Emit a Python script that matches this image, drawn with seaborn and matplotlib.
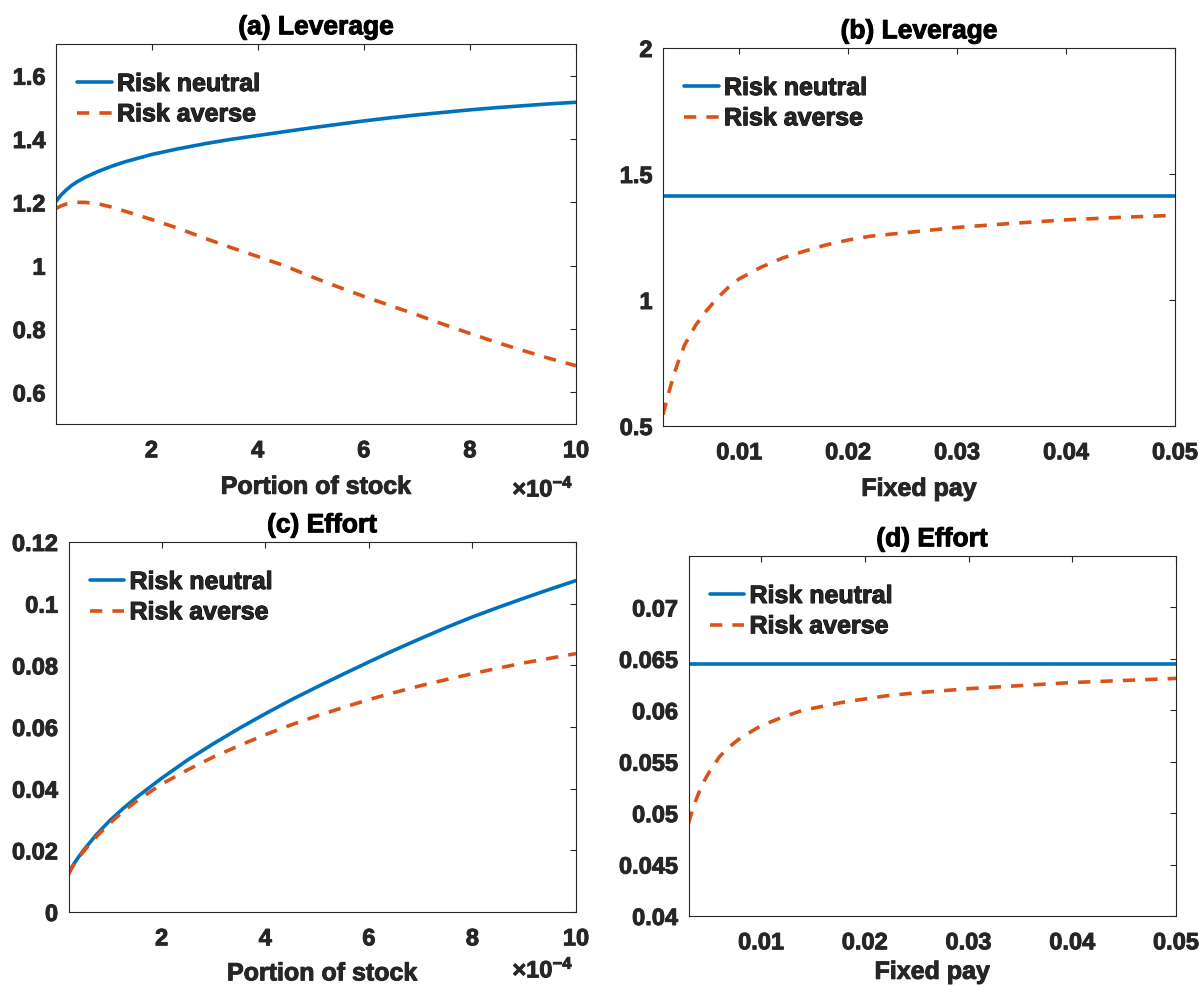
import numpy as np
import matplotlib
matplotlib.use("Agg")
import matplotlib.pyplot as plt
import matplotlib.patheffects as pe
import seaborn as sns

# ---------------- data ----------------
# Portion of stock (in units of 1e-4)
portion = [0.2, 0.25, 0.3, 0.4, 0.5, 0.6, 0.75, 1.0, 1.25, 1.5, 2.0, 2.5,
           3.0, 3.5, 4.0, 4.5, 5.0, 5.5, 6.0, 6.5, 7.0, 7.5, 8.0, 8.5,
           9.0, 9.5, 10.0]
lev_neutral_a = [1.203, 1.214, 1.224, 1.240, 1.254, 1.265, 1.279, 1.298,
                 1.314, 1.328, 1.351, 1.369, 1.385, 1.399, 1.411, 1.423,
                 1.435, 1.446, 1.457, 1.467, 1.476, 1.484, 1.492, 1.499,
                 1.505, 1.511, 1.516]
lev_averse_a = [1.181, 1.185, 1.189, 1.195, 1.198, 1.200, 1.200, 1.195,
                1.185, 1.172, 1.146, 1.118, 1.087, 1.057, 1.029, 1.000,
                0.966, 0.934, 0.903, 0.874, 0.845, 0.815, 0.786, 0.758,
                0.732, 0.707, 0.684]
eff_neutral_c = [0.0125, 0.0141, 0.0155, 0.0180, 0.0202, 0.0223, 0.0253,
                 0.0297, 0.0335, 0.0370, 0.0434, 0.0493, 0.0546, 0.0596,
                 0.0643, 0.0688, 0.0730, 0.0771, 0.0811, 0.0850, 0.0887,
                 0.0923, 0.0957, 0.0988, 0.1018, 0.1047, 0.1075]
eff_averse_c = [0.0122, 0.0138, 0.0152, 0.0177, 0.0198, 0.0218, 0.0246,
                0.0288, 0.0325, 0.0358, 0.0415, 0.0461, 0.0503, 0.0540,
                0.0575, 0.0607, 0.0636, 0.0663, 0.0689, 0.0712, 0.0734,
                0.0754, 0.0773, 0.0791, 0.0808, 0.0823, 0.0838]

# Fixed pay
fixed_pay = [0.003, 0.0035, 0.004, 0.0045, 0.005, 0.006, 0.007, 0.008,
             0.009, 0.010, 0.012, 0.014, 0.016, 0.018, 0.020, 0.022,
             0.025, 0.030, 0.035, 0.040, 0.045, 0.050]
lev_averse_b = [0.545, 0.628, 0.703, 0.768, 0.823, 0.900, 0.958, 1.008,
                1.050, 1.084, 1.130, 1.167, 1.194, 1.219, 1.238, 1.253,
                1.266, 1.288, 1.304, 1.318, 1.328, 1.336]
eff_averse_d = [0.0490, 0.0507, 0.0520, 0.0531, 0.0540, 0.0555, 0.0565,
                0.0573, 0.0579, 0.0585, 0.0593, 0.0600, 0.0604, 0.0608,
                0.0611, 0.0614, 0.0617, 0.0621, 0.0624, 0.0627, 0.0629,
                0.0631]
pay_ends = [0.003, 0.050]
lev_neutral_b = [1.414, 1.414]
eff_neutral_d = [0.0645, 0.0645]

# ticks
portion_ticks = [2, 4, 6, 8, 10]
portion_ticklabels = ["2", "4", "6", "8", "10"]
pay_ticks = [0.01, 0.02, 0.03, 0.04, 0.05]
pay_ticklabels = ["0.01", "0.02", "0.03", "0.04", "0.05"]
yticks_a = [0.6, 0.8, 1.0, 1.2, 1.4, 1.6]
ylabels_a = ["0.6", "0.8", "1", "1.2", "1.4", "1.6"]
yticks_b = [0.5, 1.0, 1.5, 2.0]
ylabels_b = ["0.5", "1", "1.5", "2"]
yticks_c = [0, 0.02, 0.04, 0.06, 0.08, 0.10, 0.12]
ylabels_c = ["0", "0.02", "0.04", "0.06", "0.08", "0.1", "0.12"]
yticks_d = [0.04, 0.045, 0.05, 0.055, 0.06, 0.065, 0.07]
ylabels_d = ["0.04", "0.045", "0.05", "0.055", "0.06", "0.065", "0.07"]

titles = ["(a) Leverage", "(b) Leverage", "(c) Effort", "(d) Effort"]
series_names = ["Risk neutral", "Risk averse"]

# ---------------- style ----------------
sns.set_style("white")
plt.rcParams["font.family"] = ["Liberation Sans", "DejaVu Sans"]
plt.rcParams["font.weight"] = "bold"
plt.rcParams["mathtext.fontset"] = "custom"
plt.rcParams["mathtext.rm"] = "Liberation Sans"
plt.rcParams["mathtext.bf"] = "Liberation Sans:bold"

BLUE = "#0072BD"
ORANGE = "#D95319"
AXC = "#262626"
LW = 2.6
DASH = (0, (3.4, 2.8))


def heavy(color):
    # slightly thicker glyph strokes
    return [pe.withStroke(linewidth=0.7, foreground=color)]


W, H = 1199, 987
fig = plt.figure(figsize=(W / 100, H / 100), dpi=100)


def axes_px(left, top, right, bottom):
    return fig.add_axes([left / W, 1 - bottom / H, (right - left) / W,
                         (bottom - top) / H])


ax_a = axes_px(56, 45, 576, 425)
ax_b = axes_px(663, 49, 1175, 427)
ax_c = axes_px(68.5, 543, 576, 913)
ax_d = axes_px(688.5, 557, 1176, 917)

x_portion = np.array(portion) * 1e-4

sns.lineplot(x=x_portion, y=lev_neutral_a, ax=ax_a, color=BLUE, lw=LW,
             label=series_names[0], estimator=None)
sns.lineplot(x=x_portion, y=lev_averse_a, ax=ax_a, color=ORANGE, lw=LW,
             linestyle=DASH, label=series_names[1], estimator=None)

sns.lineplot(x=pay_ends, y=lev_neutral_b, ax=ax_b, color=BLUE, lw=LW,
             label=series_names[0], estimator=None)
sns.lineplot(x=fixed_pay, y=lev_averse_b, ax=ax_b, color=ORANGE, lw=LW,
             linestyle=DASH, label=series_names[1], estimator=None)

sns.lineplot(x=x_portion, y=eff_neutral_c, ax=ax_c, color=BLUE, lw=LW,
             label=series_names[0], estimator=None)
sns.lineplot(x=x_portion, y=eff_averse_c, ax=ax_c, color=ORANGE, lw=LW,
             linestyle=DASH, label=series_names[1], estimator=None)

sns.lineplot(x=pay_ends, y=eff_neutral_d, ax=ax_d, color=BLUE, lw=LW,
             label=series_names[0], estimator=None)
sns.lineplot(x=fixed_pay, y=eff_averse_d, ax=ax_d, color=ORANGE, lw=LW,
             linestyle=DASH, label=series_names[1], estimator=None)

panel_setup = [
    (ax_a, (0.2e-4, 10e-4), (0.5, 1.7), np.array(portion_ticks) * 1e-4,
     portion_ticklabels, yticks_a, ylabels_a, "Portion of stock", 9, -65),
    (ax_b, (0.003, 0.05), (0.5, 2.0), pay_ticks, pay_ticklabels,
     yticks_b, ylabels_b, "Fixed pay", 9, None),
    (ax_c, (0.2e-4, 10e-4), (0.0, 0.12), np.array(portion_ticks) * 1e-4,
     portion_ticklabels, yticks_c, ylabels_c, "Portion of stock", 8, -58),
    (ax_d, (0.003, 0.05), (0.04, 0.075), pay_ticks, pay_ticklabels,
     yticks_d, ylabels_d, "Fixed pay", 4, None),
]

for (ax, xl, yl, xt, xtl, yt, ytl, xlab, lpad, exp_y), title in zip(panel_setup, titles):
    ax.set_xlim(*xl)
    ax.set_ylim(*yl)
    ax.set_xticks(xt)
    ax.set_xticklabels(xtl)
    ax.set_yticks(yt)
    ax.set_yticklabels(ytl)
    ax.tick_params(direction="in", length=4.5, width=0.8, colors=AXC,
                   labelsize=17, top=True, right=True)
    ax.tick_params(axis="x", pad=11)
    ax.tick_params(axis="y", pad=7.5)
    for lab in ax.get_xticklabels() + ax.get_yticklabels():
        lab.set_fontweight("bold")
        lab.set_path_effects(heavy(AXC))
    for sp in ax.spines.values():
        sp.set_visible(True)
        sp.set_color(AXC)
        sp.set_linewidth(0.8)
    ax.set_xlabel(xlab, fontsize=18, fontweight="bold", color=AXC,
                  labelpad=lpad, path_effects=heavy(AXC))
    ax.set_ylabel("")
    ax.set_title(title, fontsize=19, fontweight="bold", color="black", pad=7,
                 path_effects=heavy("black"))

    bb = ax.get_window_extent()
    wpx, hpx = bb.width, bb.height
    leg = ax.legend(loc="upper left", bbox_to_anchor=(21 / wpx, 1 - 28 / hpx),
                    frameon=False, prop={"size": 18, "weight": "bold"},
                    handlelength=1.38, handletextpad=0.22, labelspacing=0.25,
                    borderaxespad=0, borderpad=0)
    for t in leg.get_texts():
        t.set_path_effects(heavy("black"))

    if exp_y is not None:
        ax.text(0.995, exp_y / hpx, r"$\times\mathbf{10^{-4}}$",
                transform=ax.transAxes, ha="right", va="center",
                fontsize=17, color=AXC, path_effects=heavy(AXC))

fig.savefig("out.png", dpi=100, facecolor="white")
